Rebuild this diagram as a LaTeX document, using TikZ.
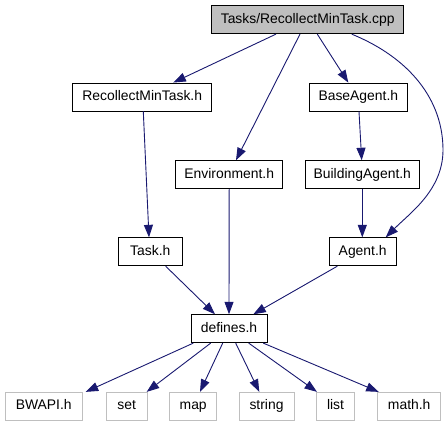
\documentclass[tikz,border=0pt]{standalone}
\usepackage{fontspec}
\setmainfont{Liberation Sans}
\usetikzlibrary{arrows.meta}
\definecolor{edgeblue}{HTML}{191970}
\definecolor{lgray}{HTML}{BFBFBF}
\begin{document}
\begin{tikzpicture}[x=1pt,y=-1pt,
  box/.style={draw=black,line width=0.85pt,rectangle,inner sep=0pt,minimum height=28pt,
    font=\fontsize{13.9}{16}\selectfont,text height=10pt,text depth=2.8pt},
  ext/.style={box,draw=lgray},
  dep/.style={draw=edgeblue,line width=0.9pt,-{Triangle[length=12.5pt,width=9pt]},fill=none}]
\useasboundingbox (0,0) rectangle (448,427);
\node[box,fill=lgray,minimum width=192pt] (cpp) at (307.7,19.7) {Tasks/RecollectMinTask.cpp};
\node[box,minimum width=139pt] (rmt) at (142.2,97) {RecollectMinTask.h};
\node[box,minimum width=97.3pt] (base) at (358.3,97) {BaseAgent.h};
\node[box,minimum width=107pt] (env) at (229.2,174.7) {Environment.h};
\node[box,minimum width=113.3pt] (build) at (362.3,174.7) {BuildingAgent.h};
\node[box,minimum width=63.3pt] (task) at (150.3,251.8) {Task.h};
\node[box,minimum width=67.3pt] (agent) at (362.7,251.8) {Agent.h};
\node[box,minimum width=76pt] (defs) at (229,328.7) {defines.h};
\node[ext,minimum width=77.3pt] (bwapi) at (43.7,406.3) {BWAPI.h};
\node[ext,minimum width=40.7pt] (set) at (126.7,406.3) {set};
\node[ext,minimum width=47pt] (map) at (193.2,406.3) {map};
\node[ext,minimum width=55pt] (string) at (266.5,406.3) {string};
\node[ext,minimum width=38.3pt] (list) at (335.5,406.3) {list};
\node[ext,minimum width=63pt] (math) at (409.2,406.3) {math.h};
% edges
\draw[dep] ([xshift=-31.7pt]cpp.south) -- ([xshift=31.1pt]rmt.north);
\draw[dep] ([xshift=-7.7pt]cpp.south) -- ([xshift=6.8pt]env.north);
\draw[dep] ([xshift=9.6pt]cpp.south) -- ([xshift=-10pt]base.north);
\draw[dep] ([xshift=44pt]cpp.south) .. controls (410,58) and (443,100) .. (443,150)
   .. controls (443,190) and (410,213) .. ([xshift=23pt]agent.north);
\draw[dep] ([xshift=1.1pt]rmt.south) -- ([xshift=-1.3pt]task.north);
\draw[dep] ([xshift=0.7pt]base.south) -- ([xshift=-0.6pt]build.north);
\draw[dep] (env.south) -- (defs.north);
\draw[dep] (build.south) -- ([xshift=-0.4pt]agent.north);
\draw[dep] ([xshift=15.4pt]task.south) -- ([xshift=-14pt]defs.north);
\draw[dep] ([xshift=-25.4pt]agent.south) -- ([xshift=24.3pt]defs.north);
\draw[dep] ([xshift=-35.7pt]defs.south) -- ([xshift=42pt]bwapi.north);
\draw[dep] ([xshift=-18.3pt]defs.south) -- ([xshift=20pt]set.north);
\draw[dep] ([xshift=-6.3pt]defs.south) -- ([xshift=6.8pt]map.north);
\draw[dep] ([xshift=6.7pt]defs.south) -- ([xshift=-7.2pt]string.north);
\draw[dep] ([xshift=19.7pt]defs.south) -- ([xshift=-18.5pt]list.north);
\draw[dep] ([xshift=34.3pt]defs.south) -- ([xshift=-30.5pt]math.north);
\end{tikzpicture}
\end{document}
